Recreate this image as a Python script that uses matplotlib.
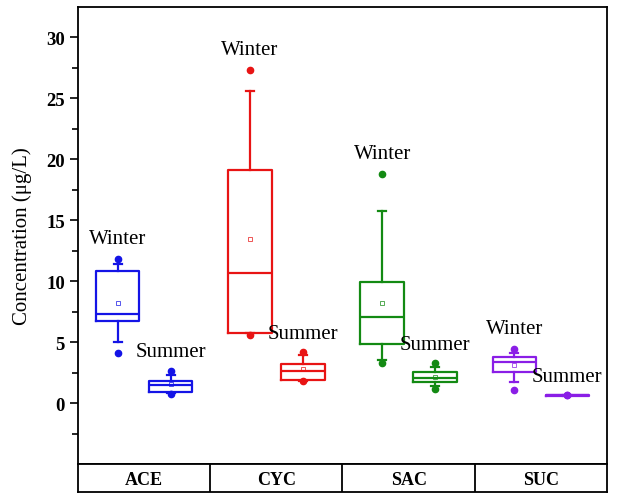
import numpy as np
import matplotlib
matplotlib.use("Agg")
import matplotlib.pyplot as plt

plt.rcParams['font.family'] = ['Liberation Serif', 'DejaVu Serif']

categories = ["ACE", "CYC", "SAC", "SUC"]
colors = ["#1414e6", "#e81414", "#138a13", "#8a1ee6"]

# winter / summer stats
win_q1 = [6.7, 5.75, 4.85, 2.55]
win_med = [7.3, 10.7, 7.1, 3.4]
win_q3 = [10.85, 19.1, 9.9, 3.8]
win_lo = [5.05, 5.75, 3.55, 1.75]
win_hi = [11.4, 25.6, 15.8, 4.15]
win_mean = [8.2, 13.5, 8.2, 3.15]
win_min = [4.15, 5.55, 3.25, 1.1]
win_max = [11.8, 27.3, 18.8, 4.4]

sum_q1 = [0.9, 1.9, 1.7, 0.62]
sum_med = [1.5, 2.65, 2.05, 0.66]
sum_q3 = [1.85, 3.2, 2.55, 0.7]
sum_lo = [0.8, 1.85, 1.4, 0.62]
sum_hi = [2.3, 3.95, 3.0, 0.7]
sum_mean = [1.6, 2.8, 2.15, 0.66]
sum_min = [0.72, 1.8, 1.15, 0.66]
sum_max = [2.65, 4.2, 3.25, 0.66]

fig = plt.figure(figsize=(6.17, 5.02), dpi=100)
ax = fig.add_axes([0.1264, 0.0737, 0.8574, 0.9103])
sax = fig.add_axes([0.1264, 0.0179, 0.8574, 0.0558])

def stats(q1, med, q3, lo, hi, mean, mn, mx):
    out = []
    for i in range(len(q1)):
        out.append(dict(q1=q1[i], med=med[i], q3=q3[i], whislo=lo[i], whishi=hi[i],
                        mean=mean[i], fliers=[mn[i], mx[i]]))
    return out

winter = stats(win_q1, win_med, win_q3, win_lo, win_hi, win_mean, win_min, win_max)
summer = stats(sum_q1, sum_med, sum_q3, sum_lo, sum_hi, sum_mean, sum_min, sum_max)

for i, c in enumerate(colors):
    for st, pos in ((winter[i], i + 0.3), (summer[i], i + 0.7)):
        ax.bxp([st], positions=[pos], widths=0.33, capwidths=0.06, showmeans=True,
               boxprops=dict(color=c, lw=1.6),
               medianprops=dict(color=c, lw=1.6),
               whiskerprops=dict(color=c, lw=1.6),
               capprops=dict(color=c, lw=1.6),
               meanprops=dict(marker='s', markersize=3.2, markerfacecolor='none',
                              markeredgecolor=c, markeredgewidth=0.5),
               flierprops=dict(marker='o', markersize=4.5, markerfacecolor=c,
                               markeredgecolor=c))
    ax.text(i + 0.3, win_max[i] + 1.7, "Winter", ha='center', va='center', fontsize=15)
    ax.text(i + 0.7, sum_max[i] + 1.55, "Summer", ha='center', va='center', fontsize=15)

ax.set_xlim(0, 4)
ax.set_ylim(-5, 32.5)
ax.set_xticks([])
ax.set_yticks(np.arange(0, 31, 5))
ax.set_yticks(np.arange(-2.5, 32.5, 5), minor=True)
ax.tick_params(axis='y', which='major', direction='out', length=6, width=1.2, labelsize=13.5)
ax.tick_params(axis='y', which='minor', direction='out', length=4, width=1.2)
for lab in ax.get_yticklabels():
    lab.set_fontweight('bold')
for s in ax.spines.values():
    s.set_linewidth(1.3)
ax.set_ylabel("Concentration (μg/L)", fontsize=15, labelpad=10)

sax.set_xlim(0, 4)
sax.set_ylim(0, 1)
sax.set_xticks([])
sax.set_yticks([])
for s in sax.spines.values():
    s.set_linewidth(1.3)
for i, name in enumerate(categories):
    if i > 0:
        sax.axvline(i, color='black', lw=1.3)
    sax.text(i + 0.5, 0.45, name, ha='center', va='center', fontsize=13, fontweight='bold')

fig.savefig("out.png", dpi=100)
